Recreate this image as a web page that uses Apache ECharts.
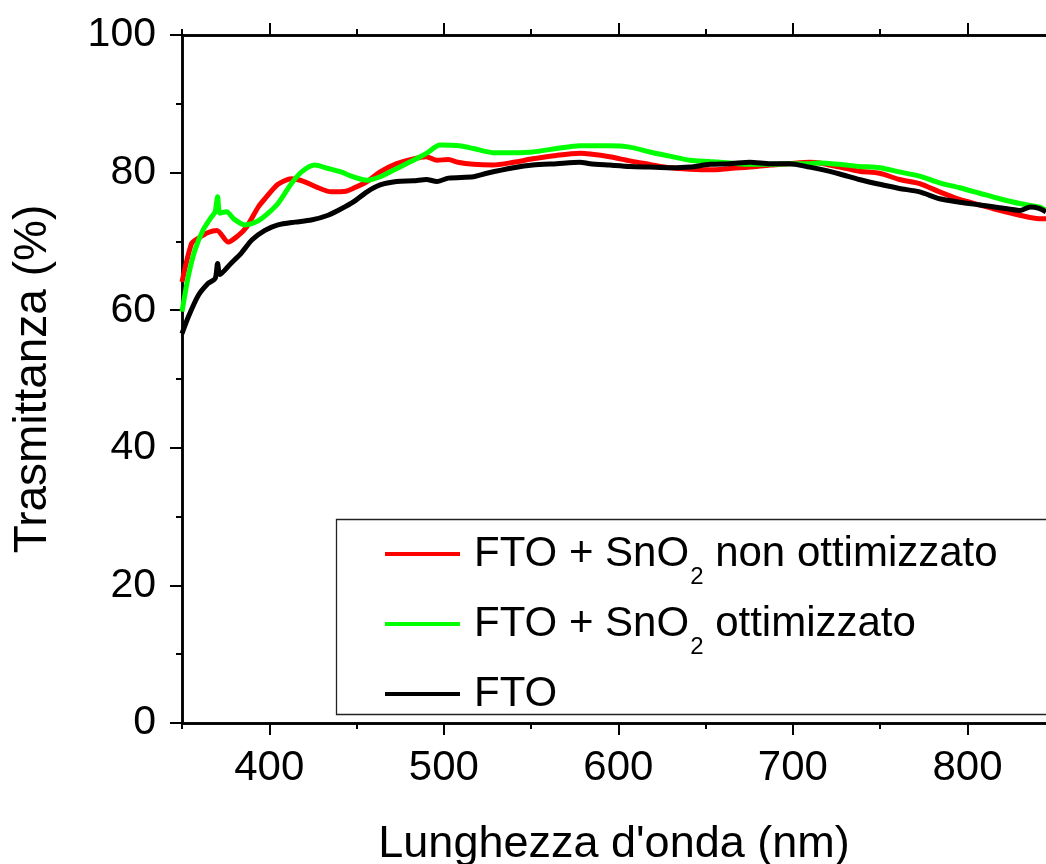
<!DOCTYPE html>
<html>
<head>
<meta charset="utf-8">
<script src="https://cdn.jsdelivr.net/npm/echarts@6/dist/echarts.min.js"></script>
<style>html,body{margin:0;padding:0;background:#fff;}#c{width:1046px;height:864px;}</style>
</head>
<body>
<div id="c"></div>
<script>
// ---- data ----
var seriesNames = ['FTO + SnO2 non ottimizzato', 'FTO + SnO2 ottimizzato', 'FTO'];
var legendLabels = ['{n|FTO + SnO}{s|2}{n| non ottimizzato}', '{n|FTO + SnO}{s|2}{n| ottimizzato}', '{n|FTO}{s| }'];
var seriesColors = ['#ff0000', '#00ff00', '#000000'];

var redWl = [350, 355.5, 359, 365, 370, 376.5, 382, 387, 393.7, 397.5, 405, 412.7, 420, 428, 435.6, 444, 448, 456, 463.5, 473, 482.6, 490, 496, 502.6, 508, 517, 528, 540, 551, 564.6, 578, 583.7, 595, 606.6, 618, 629.5, 641, 652.4, 664, 675.4, 687, 698, 709.6, 715.4, 726.8, 738, 749.7, 761, 772.6, 784, 795.5, 807, 818.4, 830, 841, 845];
var redT = [64.1, 69.7, 70.4, 71.3, 71.6, 69.9, 70.8, 72.1, 75.0, 76.2, 78.3, 79.1, 78.7, 77.8, 77.2, 77.3, 77.7, 78.7, 80.1, 81.3, 82.0, 82.3, 81.8, 81.9, 81.5, 81.2, 81.1, 81.5, 82.0, 82.5, 82.8, 82.7, 82.3, 81.7, 81.2, 80.7, 80.5, 80.4, 80.6, 80.8, 81.1, 81.3, 81.5, 81.4, 80.8, 80.2, 79.9, 79.0, 78.4, 77.2, 76.1, 75.3, 74.5, 73.8, 73.3, 73.3];

var greenWl = [350, 353.6, 357.4, 362, 367, 369, 370.4, 371.7, 375.5, 380, 386, 393.7, 399.4, 405, 412.7, 418.5, 426, 433.7, 441, 448, 456, 463.5, 473, 482.6, 490, 497.8, 509, 517, 528, 540, 551, 564.6, 578, 583.7, 595, 606.6, 618, 629.5, 641, 652.4, 664, 675.4, 687, 698, 709.6, 715.4, 726.8, 738, 749.7, 761, 772.6, 784, 795.5, 807, 818.4, 830, 841, 845];
var greenT = [59.8, 64.9, 68.7, 71.6, 73.6, 74.3, 76.5, 74.1, 74.3, 73.2, 72.4, 73.0, 74.1, 75.5, 78.4, 80.1, 81.1, 80.6, 80.1, 79.4, 78.9, 79.4, 80.6, 81.8, 82.8, 84.0, 83.9, 83.5, 82.9, 82.9, 83.0, 83.5, 83.9, 83.9, 83.9, 83.7, 83.0, 82.4, 81.8, 81.6, 81.4, 81.2, 81.2, 81.3, 81.3, 81.4, 81.2, 80.9, 80.7, 80.1, 79.5, 78.5, 77.8, 77.0, 76.2, 75.5, 75.0, 74.5];

var blackWl = [350, 353.6, 359, 365, 369, 370.4, 371.7, 378, 384, 390, 397.5, 405, 414.7, 424, 433.7, 441, 448, 456, 463.5, 473, 482.6, 490, 496, 502.6, 517, 524.6, 540, 551, 564.6, 578, 583.7, 595, 606.6, 618, 629.5, 641, 652.4, 664, 675.4, 687, 698, 709.6, 715.4, 726.8, 738, 749.7, 761, 772.6, 784, 795.5, 807, 818.4, 830, 836, 841, 845];
var blackT = [56.6, 59.0, 62.0, 63.9, 64.6, 66.8, 65.2, 66.8, 68.3, 70.2, 71.6, 72.4, 72.8, 73.1, 73.8, 74.7, 75.7, 77.2, 78.2, 78.7, 78.8, 79.0, 78.7, 79.2, 79.4, 79.9, 80.7, 81.1, 81.3, 81.5, 81.3, 81.1, 80.9, 80.8, 80.7, 80.8, 81.2, 81.3, 81.5, 81.3, 81.3, 80.8, 80.5, 79.8, 79.0, 78.3, 77.7, 77.2, 76.2, 75.7, 75.3, 74.9, 74.5, 75.0, 74.8, 74.3];

var xMajorTicks = [400, 500, 600, 700, 800];
var xMinorTicks = [350, 450, 550, 650, 750];
var yMajorTicks = [0, 20, 40, 60, 80, 100];
var yMinorTicks = [10, 30, 50, 70, 90];
var xTitle = "Lunghezza d'onda (nm)";
var yTitle = 'Trasmittanza (%)';

// ---- build chart ----
var FONT = "'Liberation Sans', Arial, sans-serif";
function pairs(xs, ys) { return xs.map(function (x, i) { return [x, ys[i]]; }); }
var wlSets = [redWl, greenWl, blackWl];
var tSets = [redT, greenT, blackT];

var axisLine = { show: true, onZero: false, lineStyle: { color: '#000', width: 2.5 } };
function xAx(pos, ticks, len, labels, name) {
  return {
    type: 'value', position: pos, min: 350, max: 845,
    axisLine: axisLine, splitLine: { show: false },
    axisTick: { show: true, inside: false, length: len, lineStyle: { color: '#000', width: 2 }, customValues: ticks },
    axisLabel: labels ? { show: true, customValues: ticks, fontSize: 42, color: '#000', fontFamily: FONT, margin: 24 } : { show: false },
    name: name || '', nameLocation: 'middle', nameGap: 99,
    nameTextStyle: { fontSize: 45, color: '#000', fontFamily: FONT }
  };
}
function yAx(ticks, len, labels, name) {
  return {
    type: 'value', position: 'left', min: 0, max: 100,
    axisLine: axisLine, splitLine: { show: false },
    axisTick: { show: true, inside: false, length: len, lineStyle: { color: '#000', width: 2 }, customValues: ticks },
    axisLabel: labels ? { show: true, customValues: ticks, fontSize: 41, color: '#000', fontFamily: FONT, margin: 26 } : { show: false },
    name: name || '', nameLocation: 'middle', nameGap: 126, nameRotate: 90,
    nameTextStyle: { fontSize: 46, color: '#000', fontFamily: FONT }
  };
}

var chart = echarts.init(document.getElementById('c'), null, { renderer: 'canvas' });
chart.setOption({
  animation: false,
  backgroundColor: '#fff',
  grid: { left: 182, top: 35, right: 0, bottom: 141, containLabel: false, outerBoundsMode: 'none' },
  xAxis: [
    xAx('bottom', xMajorTicks, 12, true, xTitle),
    xAx('bottom', xMinorTicks, 6, false),
    xAx('top', xMajorTicks, 12, false),
    xAx('top', xMinorTicks, 6, false)
  ],
  yAxis: [
    yAx(yMajorTicks, 12, true, yTitle),
    yAx(yMinorTicks, 6, false)
  ],
  legend: {
    orient: 'vertical', left: 385, top: 519, padding: 0, itemGap: 0,
    icon: 'rect', itemWidth: 75, itemHeight: 4,
    data: seriesNames,
    formatter: function (name) { return legendLabels[seriesNames.indexOf(name)]; },
    textStyle: {
      padding: [0, 0, 0, 9], color: '#000', fontFamily: FONT, lineHeight: 69,
      rich: {
        n: { fontSize: 42, lineHeight: 69, color: '#000', fontFamily: FONT },
        s: { fontSize: 24, lineHeight: 23, padding: [46, 0, 0, 1], color: '#000', fontFamily: FONT }
      }
    }
  },
  graphic: [{
    type: 'rect', left: 334, top: 517, z: 0,
    shape: { width: 711, height: 195 },
    style: { fill: 'none', stroke: '#222', lineWidth: 1.3 }
  }],
  series: seriesNames.map(function (nm, i) {
    return {
      name: nm, type: 'line', xAxisIndex: 0, yAxisIndex: 0,
      data: pairs(wlSets[i], tSets[i]),
      showSymbol: false, symbol: 'none', smooth: 0.25,
      color: seriesColors[i],
      lineStyle: { color: seriesColors[i], width: 5 },
      itemStyle: { color: seriesColors[i] },
      clip: true
    };
  })
});
</script>
</body>
</html>
